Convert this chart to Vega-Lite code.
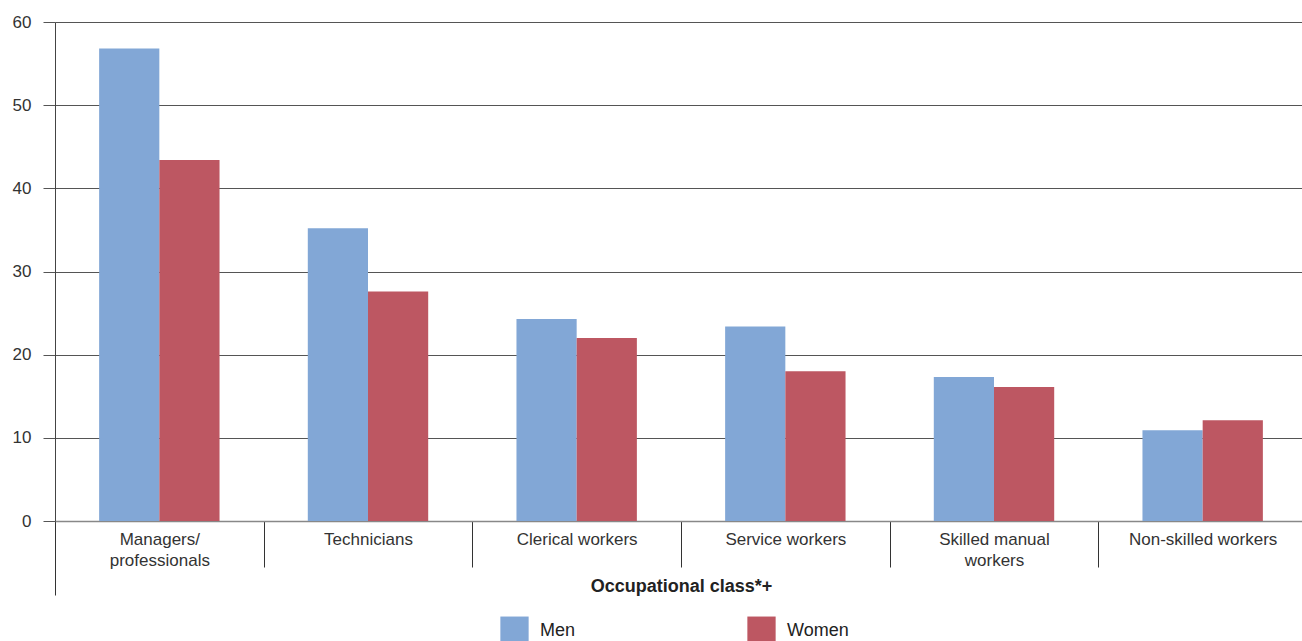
{
  "$schema": "https://vega.github.io/schema/vega-lite/v6.json",
  "autosize": "none",
  "padding": {"left": 55, "top": 22, "right": 0, "bottom": 120},
  "width": 1252,
  "height": 499,
  "background": "white",
  "config": {
    "font": "Liberation Sans",
    "view": {"stroke": null}
  },
  "data": {
    "values": [
      {"occupation": "Managers/professionals", "sex": "Men", "value": 56.8},
      {"occupation": "Managers/professionals", "sex": "Women", "value": 43.4},
      {"occupation": "Technicians", "sex": "Men", "value": 35.2},
      {"occupation": "Technicians", "sex": "Women", "value": 27.6},
      {"occupation": "Clerical workers", "sex": "Men", "value": 24.3},
      {"occupation": "Clerical workers", "sex": "Women", "value": 22.0},
      {"occupation": "Service workers", "sex": "Men", "value": 23.4},
      {"occupation": "Service workers", "sex": "Women", "value": 18.0},
      {"occupation": "Skilled manual workers", "sex": "Men", "value": 17.3},
      {"occupation": "Skilled manual workers", "sex": "Women", "value": 16.1},
      {"occupation": "Non-skilled workers", "sex": "Men", "value": 10.9},
      {"occupation": "Non-skilled workers", "sex": "Women", "value": 12.1}
    ]
  },
  "mark": {"type": "bar"},
  "encoding": {
    "x": {
      "field": "occupation",
      "type": "nominal",
      "sort": null,
      "scale": {"paddingInner": 0, "paddingOuter": 0},
      "axis": {
        "title": "Occupational class*+",
        "titleFont": "Liberation Sans",
        "titleFontSize": 18,
        "titleFontWeight": "bold",
        "titleColor": "#222222",
        "titlePadding": -18,
        "labelAngle": 0,
        "labelFont": "Liberation Sans",
        "labelFontSize": 17,
        "labelColor": "#333333",
        "labelPadding": -36,
        "labelLineHeight": 21,
        "labelExpr": "datum.value == 'Managers/professionals' ? ['Managers/', 'professionals'] : datum.value == 'Skilled manual workers' ? ['Skilled manual', 'workers'] : datum.label",
        "tickBand": "extent",
        "tickSize": {"condition": {"test": "datum.index < 0", "value": 74}, "value": 46},
        "tickColor": "#333333",
        "domainColor": "#888888",
        "domainWidth": 1.5,
        "grid": false
      }
    },
    "xOffset": {
      "field": "sex",
      "type": "nominal",
      "scale": {"paddingInner": 0, "paddingOuter": 0.733}
    },
    "y": {
      "field": "value",
      "type": "quantitative",
      "scale": {"domain": [0, 60]},
      "axis": {
        "title": null,
        "values": [0, 10, 20, 30, 40, 50, 60],
        "labelFont": "Liberation Sans",
        "labelFontSize": 17,
        "labelColor": "#333333",
        "tickSize": 12,
        "labelPadding": 12,
        "tickColor": "#555555",
        "gridColor": "#555555",
        "gridWidth": 1,
        "domainColor": "#444444",
        "grid": true
      }
    },
    "color": {
      "field": "sex",
      "type": "nominal",
      "scale": {"domain": ["Men", "Women"], "range": ["#82A7D6", "#BD5762"]},
      "legend": {
        "title": null,
        "orient": "none",
        "direction": "horizontal",
        "legendX": 445,
        "legendY": 594,
        "symbolType": "square",
        "symbolSize": 800,
        "symbolStrokeWidth": 0,
        "labelFontSize": 18,
        "labelFont": "Liberation Sans",
        "labelColor": "#222222",
        "labelOffset": 11,
        "columnPadding": 171
      }
    }
  }
}
